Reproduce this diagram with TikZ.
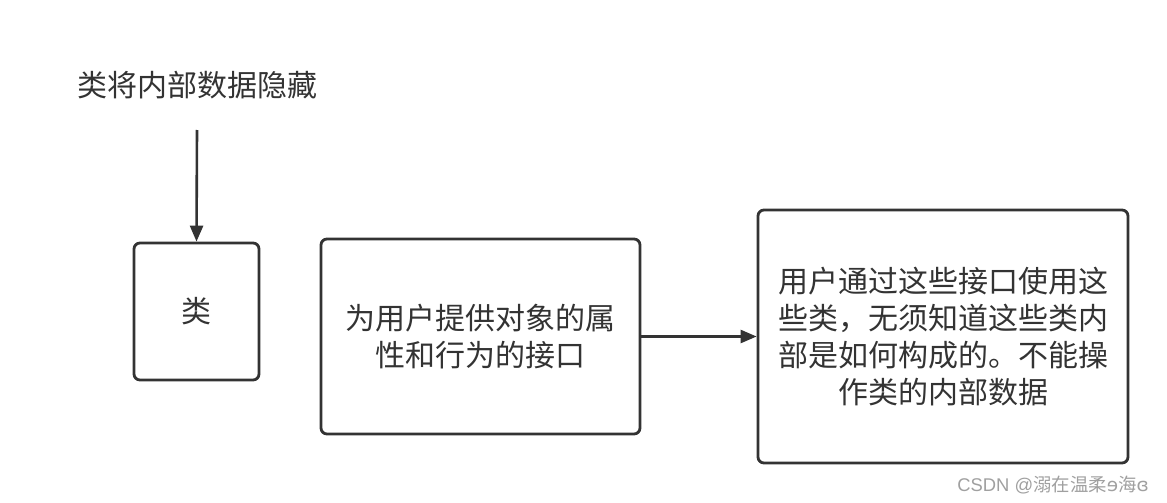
\documentclass[tikz,border=0pt]{standalone}
\usepackage{fontspec}
\setmainfont{Noto Sans CJK SC}
\newfontfamily\ipafont{DejaVu Sans}
\newfontfamily\wmlatin{Liberation Sans}
\usetikzlibrary{arrows.meta}
\definecolor{ink}{HTML}{333333}
\definecolor{wmgray}{HTML}{A0A0A0}
\begin{document}
\begin{tikzpicture}[x=1pt,y=-1pt,
  box/.style={draw=ink, line width=2.8pt, rounded corners=6pt, inner sep=0pt, text=ink, align=center, font=\fontsize{30}{37}\selectfont},
  conn/.style={draw=ink, line width=2.6pt, -{Triangle[length=16pt,width=13pt]}},
  lbl/.style={text=ink, inner sep=0pt, font=\fontsize{30}{37}\selectfont}]
\useasboundingbox[fill=white] (0,0) rectangle (1167,503);
\node[lbl] (title) at (197,85) {类将内部数据隐藏};
\node[box, minimum width=125pt, minimum height=137pt] (cls) at (196.5,311.5) {类};
\node[box, minimum width=319pt, minimum height=195pt] (iface) at (480.5,336.5) {为用户提供对象的属\\性和行为的接口};
\node[box, minimum width=370pt, minimum height=253pt] (user) at (943,336.5) {用户通过这些接口使用这\\些类，无须知道这些类内\\部是如何构成的。不能操\\作类的内部数据};
\coordinate (s) at (197,130);
\draw[conn] (s) -- (cls.north);
\draw[conn] (iface.east) -- (user.west);
\node[text=wmgray, inner sep=0pt, font=\fontsize{18.4}{21}\selectfont] (wm) at (1053,485) {\wmlatin CSDN @\normalfont 溺在温柔{\ipafont ɘ}海{\ipafont ɞ}};
\end{tikzpicture}
\end{document}
